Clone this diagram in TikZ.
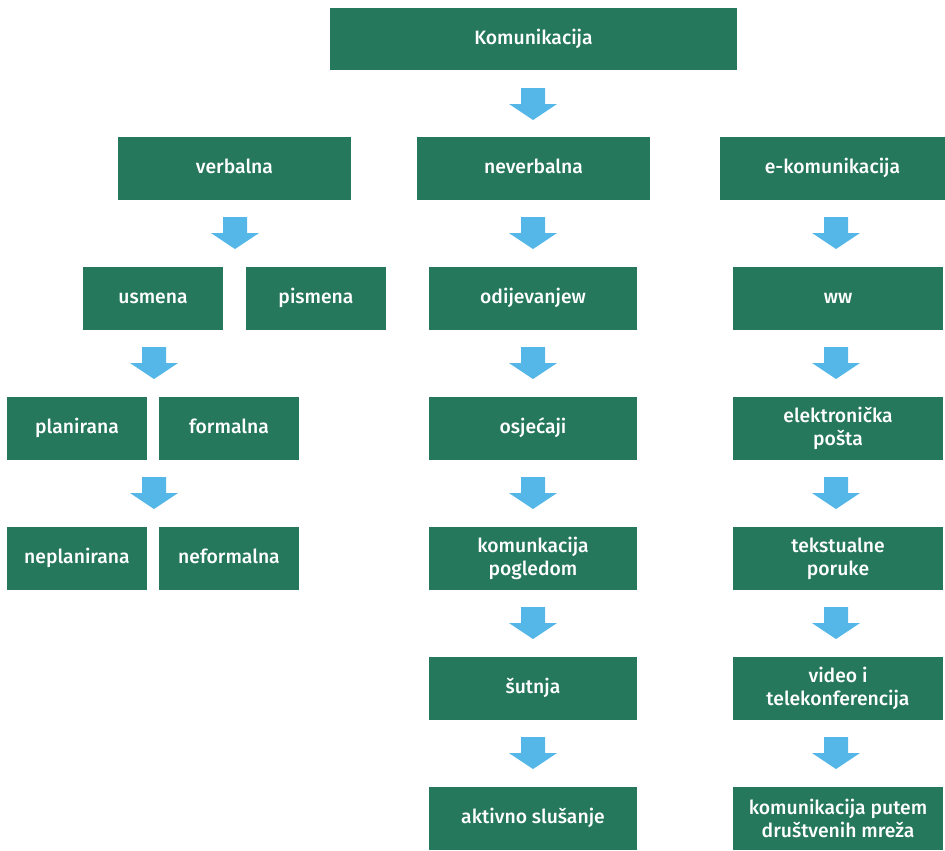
\documentclass[tikz,border=0pt]{standalone}
\usepackage{fontspec}
\setmainfont{Fira Sans}[UprightFont={* Medium}]
\usetikzlibrary{positioning}
\definecolor{boxgreen}{HTML}{25785B}
\definecolor{arrowblue}{HTML}{55B6E8}

\begin{document}
\begin{tikzpicture}[
    x=0.75pt, y=-0.75pt,
    every node/.style={font=\fontsize{14.5}{17.5}\selectfont, text=white},
    box/.style={rectangle, fill=boxgreen, inner sep=0pt, align=center,
                minimum height=47.25pt},
    oneline/.style={text height=1.8ex, text depth=0.35ex},
    wide/.style={box, oneline, minimum width=174.75pt},
    mid/.style={box, minimum width=156pt},
    right/.style={box, minimum width=157.5pt},
    small/.style={box, oneline, minimum width=105pt},
    darr/.pic={\fill[arrowblue] (-12,0) -- (12,0) -- (12,16) -- (24,16)
                 -- (0,32) -- (-24,16) -- (-12,16) -- cycle;},
]
\useasboundingbox (0,0) rectangle (945,850);

% ---------------- top
\node[box, oneline, minimum width=305.25pt, minimum height=46.5pt] (kom) at (533.5, 39) {Komunikacija};
\pic at (533, 88) {darr};

% ---------------- second row
\node[wide] (verb) at (234.5, 168.5) {verbalna};
\node[wide] (never) at (533.5, 168.5) {neverbalna};
\node[box, oneline, minimum width=168.75pt] (ekom) at (832.5, 168.5) {e-komunikacija};
\foreach \xx in {235, 533, 836}
    \pic at (\xx, 217) {darr};

% ---------------- third row
\node[small] (usm) at (153, 298.5) {usmena};
\node[small] (pism) at (316, 298.5) {pismena};
\node[mid, oneline] (odij) at (533, 298.5) {odijevanjew};
\node[right, oneline] (ww) at (838, 298.5) {ww};
\foreach \xx in {154, 533, 836}
    \pic at (\xx, 347) {darr};

% ---------------- fourth row
\node[small] (plan) at (77, 428.5) {planirana};
\node[small] (form) at (229, 428.5) {formalna};
\node[mid, oneline] (osj) at (533, 428.5) {osjećaji};
\node[right] (epost) at (838, 428.5) {elektronička\\pošta};
\foreach \xx in {154, 533, 836}
    \pic at (\xx, 477) {darr};

% ---------------- fifth row
\node[small] (neplan) at (77, 558.5) {neplanirana};
\node[small] (neform) at (229, 558.5) {neformalna};
\node[mid] (pogl) at (533, 558.5) {komunkacija\\pogledom};
\node[right] (tekst) at (838, 558.5) {tekstualne\\poruke};
\foreach \xx in {533, 836}
    \pic at (\xx, 607) {darr};

% ---------------- sixth row
\node[mid, oneline] (sut) at (533, 688.5) {šutnja};
\node[right] (video) at (838, 688.5) {video i\\telekonferencija};
\foreach \xx in {533, 836}
    \pic at (\xx, 737) {darr};

% ---------------- last row
\node[mid, oneline] (aktiv) at (533, 818.5) {aktivno slušanje};
\node[right] (mreze) at (838, 818.5) {komunikacija putem\\društvenih mreža};
\end{tikzpicture}
\end{document}
